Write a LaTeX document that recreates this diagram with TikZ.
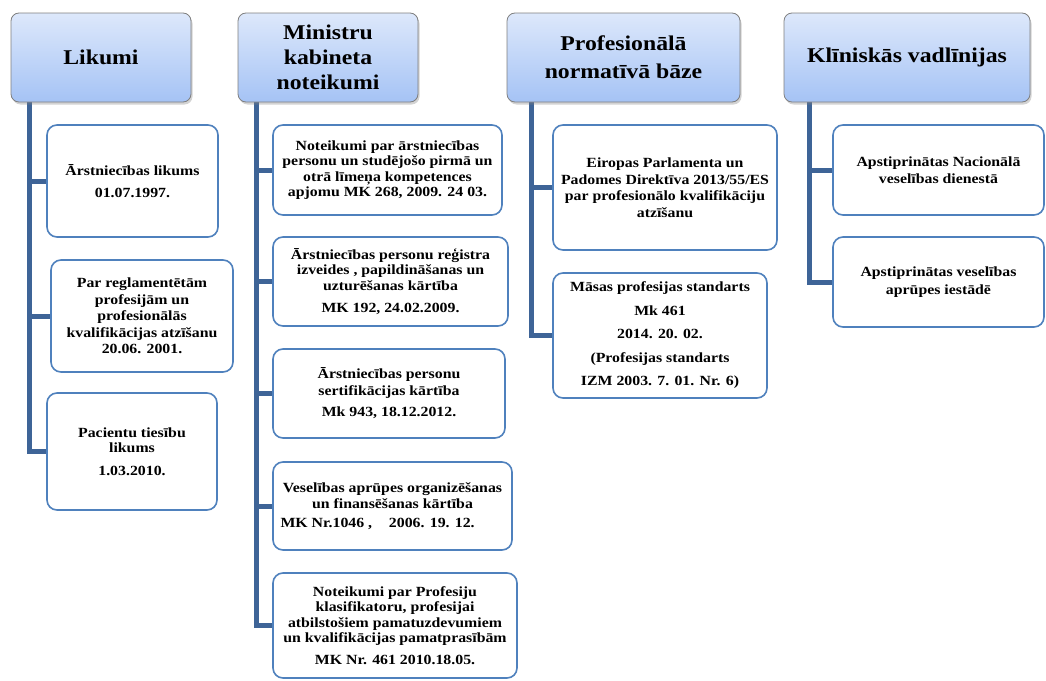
\documentclass[tikz,border=0pt]{standalone}
\usepackage{fontspec}
\setmainfont{Liberation Serif}[FakeStretch=1.13]
\usetikzlibrary{shadows,backgrounds}
\definecolor{hdtop}{HTML}{DDE8FB}
\definecolor{hdbot}{HTML}{A5C3F5}
\definecolor{hdline}{HTML}{7F7F7F}
\definecolor{boxline}{HTML}{4F81BD}
\definecolor{trunkc}{HTML}{3E6497}

\tikzset{
  header/.style={draw=hdline, line width=0.8pt, rounded corners=8pt,
    top color=hdtop, bottom color=hdbot,
    drop shadow={opacity=0.35, shadow xshift=1.5pt, shadow yshift=-2.5pt},
    font=\fontsize{21}{25}\selectfont\bfseries, align=center, inner sep=0pt},
  item/.style={draw=boxline, line width=1.6pt, rounded corners=10pt, fill=white,
    font=\fontsize{14}{15.5}\selectfont\bfseries, align=center, inner sep=0pt},
  trunk/.style={draw=trunkc, line width=5pt},
}

\begin{document}
\begin{tikzpicture}[x=1pt, y=-1pt]
\useasboundingbox (0,0) rectangle (1046,680);

% column heads
\node[header, minimum width=180pt, minimum height=89pt] (likumi) at (101,57.5) {Likumi};
\node[header, minimum width=180pt, minimum height=89pt] (mk) at (328,57.5) {Ministru\\kabineta\\noteikumi};
\node[header, minimum width=233pt, minimum height=89pt] (prof) at (623.5,57.5) {Profesionālā\\[3pt]normatīvā bāze};
\node[header, minimum width=246pt, minimum height=89pt] (klin) at (907,57.5) {Klīniskās vadlīnijas};

% Likumi
\node[item, minimum width=171pt, minimum height=112pt] (l1) at (132.5,181)
  {Ārstniecības likums\\[7pt]01.07.1997.};
\node[item, minimum width=182pt, minimum height=112pt] (l2) at (142,316)
  {Par reglamentētām\\[1pt]profesijām un\\[1pt]profesionālās\\[1pt]kvalifikācijas atzīšanu\\[1pt]20.06. 2001.};
\node[item, minimum width=170pt, minimum height=117pt] (l3) at (132,451.5)
  {Pacientu tiesību\\likums\\[7pt]1.03.2010.};

% Ministru kabineta noteikumi
\node[item, minimum width=229pt, minimum height=90pt] (m1) at (387.5,170)
  {Noteikumi par ārstniecības\\personu un studējošo pirmā un\\otrā līmeņa kompetences\\apjomu MK 268, 2009. 24 03.};
\node[item, minimum width=235pt, minimum height=89pt] (m2) at (390.5,281.5)
  {Ārstniecības personu reģistra\\izveides , papildināšanas un\\uzturēšanas kārtība\\[7pt]MK 192, 24.02.2009.};
\node[item, minimum width=232pt, minimum height=89pt] (m3) at (389,393.5)
  {Ārstniecības personu\\[1pt]sertifikācijas kārtība\\[6pt]Mk 943, 18.12.2012.};
\node[item, minimum width=239pt, minimum height=88pt] (m4) at (392.5,506)
  {Veselības aprūpes organizēšanas\\[1pt]un finansēšanas kārtība\\[3pt]\makebox[224pt][l]{MK Nr.1046 ,\hspace{1.2em}2006. 19. 12.}};
\node[item, minimum width=244pt, minimum height=105pt] (m5) at (395,625.5)
  {Noteikumi par Profesiju\\klasifikatoru, profesijai\\atbilstošiem pamatuzdevumiem\\un kvalifikācijas pamatprasībām\\[6pt]MK Nr. 461 2010.18.05.};

% Profesionālā normatīvā bāze
\node[item, minimum width=224pt, minimum height=125pt] (p1) at (665,187.5)
  {Eiropas Parlamenta un\\[1pt]Padomes Direktīva 2013/55/ES\\[1pt]par profesionālo kvalifikāciju\\[1pt]atzīšanu};
\node[item, minimum width=214pt, minimum height=125pt,
      font=\fontsize{14}{23.5}\selectfont\bfseries] (p2) at (660,335.5)
  {Māsas profesijas standarts\\Mk 461\\2014. 20. 02.\\(Profesijas standarts\\IZM 2003. 7. 01. Nr. 6)};

% Klīniskās vadlīnijas
\node[item, minimum width=211pt, minimum height=90pt] (k1) at (938.5,170)
  {Apstiprinātas Nacionālā\\[2pt]veselības dienestā};
\node[item, minimum width=211pt, minimum height=90pt] (k2) at (938.5,282)
  {Apstiprinātas veselības\\[2pt]aprūpes iestādē};

% trunks and branches
\coordinate (lt) at (29,102);
\coordinate (mt) at (256,102);
\coordinate (pt) at (531,102);
\coordinate (kt) at (809,102);
\begin{scope}[on background layer]
  \draw[trunk] (lt) |- (l3.west);
  \draw[trunk] (lt |- l1.west) -- (l1.west);
  \draw[trunk] (lt |- l2.west) -- (l2.west);
  \draw[trunk] (mt) |- (m5.west);
  \draw[trunk] (mt |- m1.west) -- (m1.west);
  \draw[trunk] (mt |- m2.west) -- (m2.west);
  \draw[trunk] (mt |- m3.west) -- (m3.west);
  \draw[trunk] (mt |- m4.west) -- (m4.west);
  \draw[trunk] (pt) |- (p2.west);
  \draw[trunk] (pt |- p1.west) -- (p1.west);
  \draw[trunk] (kt) |- (k2.west);
  \draw[trunk] (kt |- k1.west) -- (k1.west);
\end{scope}
\end{tikzpicture}
\end{document}
